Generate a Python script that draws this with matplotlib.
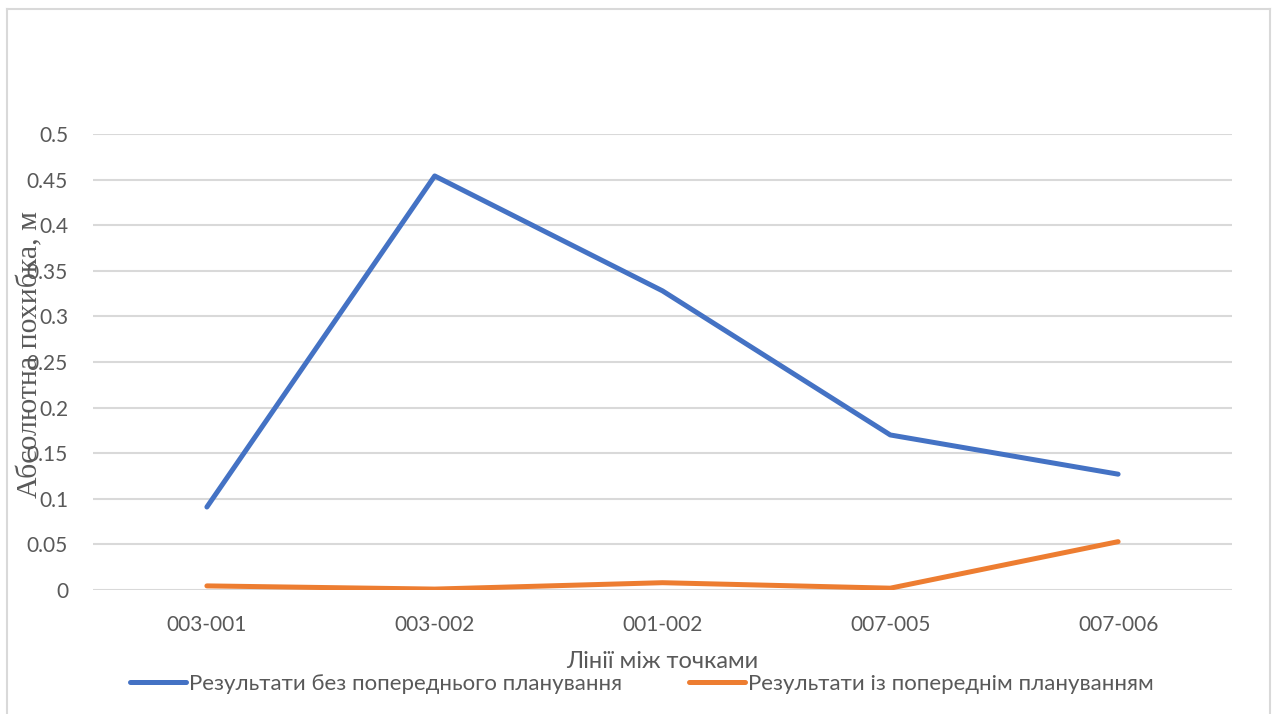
import matplotlib
matplotlib.use("Agg")
import matplotlib.pyplot as plt
from matplotlib.lines import Line2D

# Data
segments = ["003-001", "003-002", "001-002", "007-005", "007-006"]
without_planning = [0.091, 0.454, 0.328, 0.170, 0.127]
with_planning = [0.0045, 0.001, 0.008, 0.002, 0.053]
y_ticks = [0, 0.05, 0.1, 0.15, 0.2, 0.25, 0.3, 0.35, 0.4, 0.45, 0.5]
y_tick_labels = ["0", "0.05", "0.1", "0.15", "0.2", "0.25", "0.3", "0.35", "0.4", "0.45", "0.5"]
series_names = ["Результати без попереднього планування", "Результати із попереднім плануванням"]
x_title = "Лінії між точками"
y_title = "Абсолютна похибка, м"

W, H = 1276, 714
fig = plt.figure(figsize=(W / 100, H / 100), dpi=100)
fig.patch.set_facecolor("white")

# Chart-area border (open at the bottom)
border_c = "#d9d9d9"
fig.add_artist(Line2D([7 / W, 7 / W], [0, 1 - 9 / H], color=border_c, lw=1.5))
fig.add_artist(Line2D([7 / W, 1270 / W], [1 - 9 / H, 1 - 9 / H], color=border_c, lw=1.5))
fig.add_artist(Line2D([1270 / W, 1270 / W], [0, 1 - 9 / H], color=border_c, lw=1.5))

left, right, top, bottom = 93, 1232, 134, 590
ax = fig.add_axes([left / W, 1 - bottom / H, (right - left) / W, (bottom - top) / H])

x = list(range(len(segments)))
blue, orange = "#4472C4", "#ED7D31"
ax.plot(x, without_planning, color=blue, lw=3.6, solid_capstyle="round",
        solid_joinstyle="round", label=series_names[0], zorder=3)
ax.plot(x, with_planning, color=orange, lw=3.6, solid_capstyle="round",
        solid_joinstyle="round", label=series_names[1], zorder=3)

ax.set_xlim(-0.5, len(segments) - 0.5)
ax.set_ylim(0, 0.5)
ax.set_yticks(y_ticks)
ax.set_yticklabels(y_tick_labels)
ax.set_xticks(x)
ax.set_xticklabels(segments)

for s in ax.spines.values():
    s.set_visible(False)
ax.grid(axis="y", color="#d9d9d9", lw=1.5, zorder=0)
ax.set_axisbelow(True)
ax.tick_params(axis="both", length=0, labelsize=15, labelcolor="#595959")
ax.tick_params(axis="y", pad=18)
ax.tick_params(axis="x", pad=18)
for lab in ax.get_xticklabels() + ax.get_yticklabels():
    lab.set_fontfamily("Lato")

fig.text(662 / W, 1 - 661 / H, x_title, ha="center", va="center",
         fontsize=17, color="#595959", family="Lato")
fig.text(30 / W, 1 - 355 / H, y_title, ha="center", va="center", rotation=90,
         fontsize=21.5, color="#595959", family="Liberation Serif")

handles = [Line2D([], [], color=blue, lw=3.6, solid_capstyle="round"),
           Line2D([], [], color=orange, lw=3.6, solid_capstyle="round")]
fig.legend(handles, series_names, loc="center", bbox_to_anchor=(642 / W, 1 - 684 / H),
           ncol=2, frameon=False, handlelength=2.5, handletextpad=0.15,
           columnspacing=3.0, labelcolor="#595959", prop={"family": "Lato", "size": 16})

fig.savefig("out.png", dpi=100, facecolor="white")
